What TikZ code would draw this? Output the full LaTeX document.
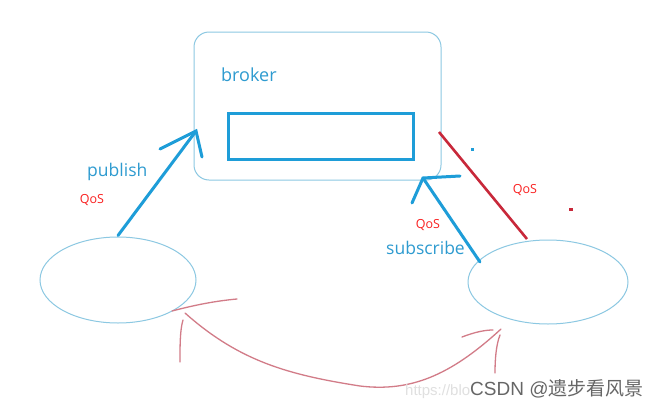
\documentclass[tikz,border=0pt]{standalone}
\usepackage{fontspec}
\setmainfont{Open Sans}
\newfontfamily\cjk{Noto Sans CJK SC}
\newfontfamily\wmfont{Liberation Sans}
\usetikzlibrary{shapes.geometric}
\definecolor{boxblue}{HTML}{8CC8E2}
\definecolor{strongblue}{HTML}{1E9DD8}
\definecolor{textblue}{HTML}{2E9BD0}
\definecolor{darkred}{HTML}{C8283A}
\definecolor{qosred}{HTML}{FA2020}
\definecolor{pinkline}{HTML}{D27C88}
\tikzset{
  thinbox/.style={draw=boxblue, line width=1pt},
  bluearrow/.style={draw=strongblue, line width=3pt, line cap=round},
  bluelabel/.style={text=textblue, font=\fontsize{17.5}{19}\selectfont, inner sep=0pt, anchor=west},
  qos/.style={text=qosred, font=\fontsize{12.5}{14}\selectfont, inner sep=0pt},
  pinkstroke/.style={draw=pinkline, line width=1.3pt, line cap=round},
}
\begin{document}
\begin{tikzpicture}[x=1pt,y=-1pt]
\useasboundingbox[fill=white] (0,0) rectangle (656,407);
% broker
\node[thinbox, rounded corners=15pt, minimum width=247pt, minimum height=148pt, inner sep=0pt] (broker) at (317.5,106) {};
\node[bluelabel, font=\fontsize{18}{20}\selectfont] (brokerlabel) at (221,75) {broker};
\node[draw=strongblue, line width=3pt, minimum width=185pt, minimum height=46pt, inner sep=0pt] (queue) at (320.5,136) {};
% clients
\node[thinbox, ellipse, minimum width=156pt, minimum height=86pt, inner sep=0pt] (pub) at (118,280) {};
\node[thinbox, ellipse, minimum width=160pt, minimum height=84pt, inner sep=0pt] (sub) at (548,282) {};
% publish arrow
\coordinate (pubtip) at (196,131);
\coordinate (pubbarbA) at (160,149);
\coordinate (pubbarbB) at (202,157);
\draw[bluearrow] (pub.north) ++(0,-1) -- (pubtip);
\draw[bluearrow] (pubbarbA) -- (pubtip) -- (pubbarbB);
\node[bluelabel] (publabel) at (87,172) {publish};
\node[qos] (qosA) at (92,200) {QoS};
% subscribe arrow
\coordinate (substart) at (480,262);
\coordinate (subtip) at (423,178);
\coordinate (subbarbA) at (460,176);
\coordinate (subbarbB) at (412,203);
\draw[bluearrow] (substart) -- (subtip);
\draw[bluearrow] (subbarbA) -- (subtip) -- (subbarbB);
\node[bluelabel] (sublabel) at (386,248) {subscribe};
\node[qos] (qosB) at (428,225) {QoS};
% red line
\coordinate (redtop) at (439,132);
\coordinate (redbot) at (527,239);
\draw[draw=darkred, line width=2.6pt] (redtop) -- (redbot);
\node[qos] (qosC) at (525,190) {QoS};
% stray dots
\fill[strongblue] (471,148) rectangle (474,151);
\fill[darkred] (569,208) rectangle (573,211);
% pink curve
\coordinate (pinkL) at (185,313);
\coordinate (pinkR) at (501,329);
\draw[pinkstroke] (pinkL) .. controls (240,362) and (290,375) .. (360,386)
  .. controls (410,392) and (450,376) .. (pinkR);
\draw[pinkstroke] (172,311) .. controls (195,305) and (215,301) .. (237,299);
\draw[pinkstroke] (183,320) .. controls (180,330) and (180,345) .. (180,362);
\draw[pinkstroke] (462,337) .. controls (475,332) and (485,330) .. (493,330);
\draw[pinkstroke] (500,335) .. controls (496,345) and (495,360) .. (495,373);
% watermark
\node[text=black!12, font=\fontsize{15}{17}\selectfont\wmfont, anchor=base west, inner sep=0pt] (url) at (405,395) {https://blo};
\node[text=black!60, font=\fontsize{19}{21}\selectfont\wmfont, anchor=base west, inner sep=0pt] (csdn) at (470,395) {CSDN @{\cjk 遗步看风景}};
\end{tikzpicture}
\end{document}
